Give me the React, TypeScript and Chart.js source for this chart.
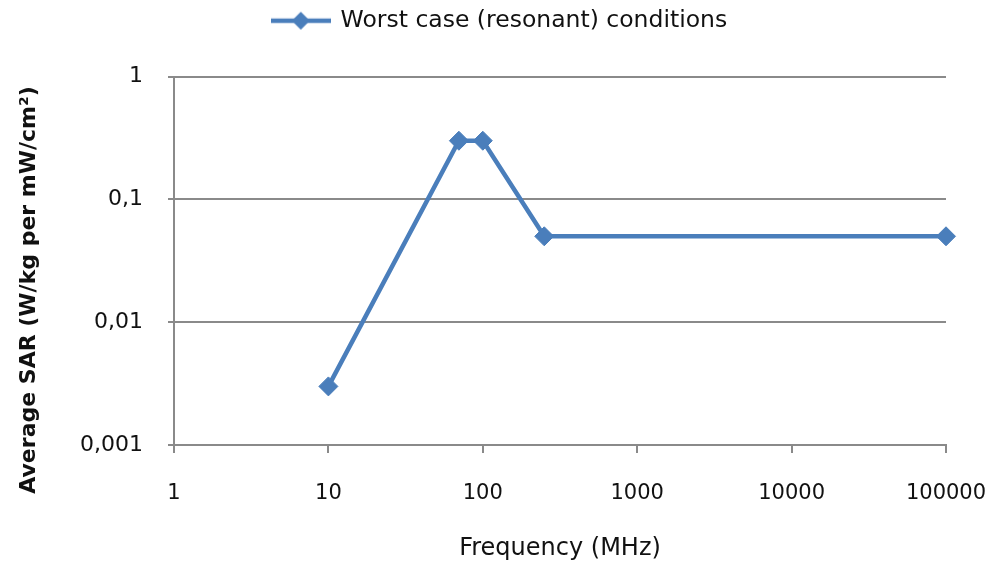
import { useEffect, useRef } from 'react';
import { Chart, registerables } from 'chart.js';

Chart.register(...registerables);

const frequencies = [10, 70, 100, 250, 100000];
const sarValues = [0.003, 0.3, 0.3, 0.05, 0.05];
const xTicks = [1, 10, 100, 1000, 10000, 100000];
const yTicks = [1, 0.1, 0.01, 0.001];
const seriesLabel = 'Worst case (resonant) conditions';
const xTitle = 'Frequency (MHz)';
const yTitle = 'Average SAR (W/kg per mW/cm²)';

const LINE_COLOR = '#4a7ebb';
const GRID_COLOR = '#8a8a8a';
const FONT = 'DejaVu Sans';

function makeLegendIcon(): HTMLCanvasElement {
  const c = document.createElement('canvas');
  c.width = 60;
  c.height = 22;
  const ctx = c.getContext('2d')!;
  ctx.strokeStyle = LINE_COLOR;
  ctx.lineWidth = 4.5;
  ctx.beginPath();
  ctx.moveTo(0, 11);
  ctx.lineTo(60, 11);
  ctx.stroke();
  ctx.fillStyle = LINE_COLOR;
  ctx.beginPath();
  ctx.moveTo(30, 2);
  ctx.lineTo(39, 11);
  ctx.lineTo(30, 20);
  ctx.lineTo(21, 11);
  ctx.closePath();
  ctx.fill();
  return c;
}

const yTitlePlugin = {
  id: 'yTitlePlugin',
  afterDraw(chart: any) {
    const ctx = chart.ctx as CanvasRenderingContext2D;
    ctx.save();
    ctx.translate(29, 290);
    ctx.rotate(-Math.PI / 2);
    ctx.font = `bold 22px "${FONT}"`;
    ctx.fillStyle = '#111';
    ctx.textAlign = 'center';
    ctx.textBaseline = 'middle';
    ctx.fillText(yTitle, 0, 0);
    ctx.restore();
  },
};

const zeroPad = (scale: any) => {
  scale.paddingLeft = 0;
  scale.paddingRight = 0;
  scale.paddingTop = 0;
  scale.paddingBottom = 0;
};

export default function App() {
  const ref = useRef<HTMLCanvasElement | null>(null);

  useEffect(() => {
    if (!ref.current) return;
    const icon = makeLegendIcon();
    const chart = new Chart(ref.current, {
      type: 'line',
      data: {
        datasets: [
          {
            label: seriesLabel,
            data: frequencies.map((f, i) => ({ x: f, y: sarValues[i] })),
            borderColor: LINE_COLOR,
            backgroundColor: LINE_COLOR,
            borderWidth: 4.5,
            pointStyle: 'rectRot',
            pointRadius: 9.5,
            pointBorderWidth: 1,
            pointBackgroundColor: LINE_COLOR,
            pointBorderColor: LINE_COLOR,
            tension: 0,
            fill: false,
            clip: false as any,
          },
        ],
      },
      options: {
        animation: false,
        responsive: false,
        devicePixelRatio: 1,
        layout: { autoPadding: false, padding: { left: 0, right: 0, top: 0, bottom: 0 } },
        font: { family: FONT },
        plugins: {
          legend: {
            display: true,
            position: 'top',
            labels: {
              usePointStyle: true,
              pointStyle: icon as any,
              pointStyleWidth: 56,
              padding: 9,
              color: '#111',
              font: { family: FONT, size: 23.5 },
            },
          },
          title: {
            display: true,
            text: '',
            weight: 500,
            font: { size: 10 },
            padding: { top: 0, bottom: 22 },
          } as any,
          tooltip: { enabled: false },
        },
        scales: {
          x: {
            type: 'logarithmic',
            min: 1,
            max: 100000,
            afterBuildTicks(scale: any) {
              scale.ticks = xTicks.map((v) => ({ value: v }));
            },
            afterFit(scale: any) {
              scale.height = 128;
              zeroPad(scale);
            },
            ticks: {
              autoSkip: false,
              maxRotation: 0,
              padding: 28,
              color: '#111',
              font: { family: FONT, size: 21 },
              callback: (v: any) => String(v),
            },
            grid: {
              drawOnChartArea: false,
              drawTicks: true,
              tickLength: 8,
              color: GRID_COLOR,
              lineWidth: 2,
            },
            border: { display: true, color: GRID_COLOR, width: 2 },
            title: {
              display: true,
              text: xTitle,
              color: '#111',
              font: { family: FONT, size: 24 },
              padding: { top: 0, bottom: 10 },
            },
          },
          y: {
            type: 'logarithmic',
            min: 0.001,
            max: 1,
            afterBuildTicks(scale: any) {
              scale.ticks = yTicks.map((v) => ({ value: v }));
            },
            afterFit(scale: any) {
              scale.width = 174;
              zeroPad(scale);
            },
            ticks: {
              autoSkip: false,
              padding: 25,
              color: '#111',
              font: { family: FONT, size: 22 },
              callback: (v: any) => String(v).replace('.', ','),
            },
            grid: {
              drawOnChartArea: true,
              drawTicks: true,
              tickLength: 6,
              color: GRID_COLOR,
              lineWidth: 2,
            },
            border: { display: true, color: GRID_COLOR, width: 2 },
          },
          spacer: {
            type: 'linear',
            position: 'right',
            display: true,
            afterFit(scale: any) {
              scale.width = 54;
              zeroPad(scale);
            },
            ticks: { display: false },
            grid: { display: false, drawTicks: false },
            border: { display: false },
          },
        },
      },
      plugins: [yTitlePlugin],
    });
    return () => chart.destroy();
  }, []);

  return (
    <div style={{ position: 'absolute', left: 0, top: 0, width: 1000, height: 573, background: '#fff' }}>
      <canvas ref={ref} width={1000} height={573} />
    </div>
  );
}
